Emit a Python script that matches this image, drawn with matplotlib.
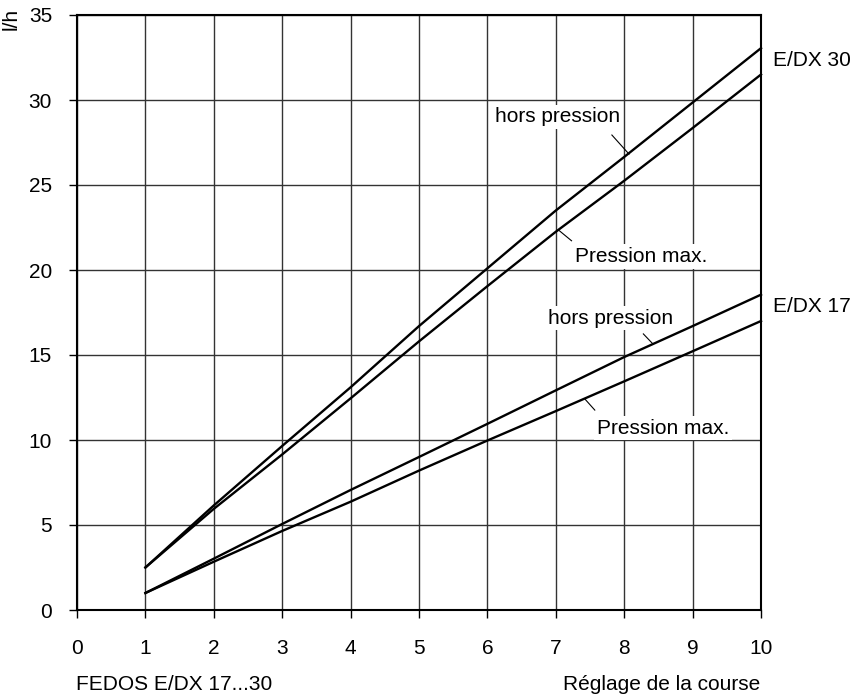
import matplotlib
matplotlib.use("Agg")
import matplotlib.pyplot as plt

plt.rcParams['font.family'] = ['Liberation Sans', 'DejaVu Sans']

# course setting (x) and flow l/h
course = [1, 2, 3, 4, 5, 6, 7, 8, 9, 10]
dx30_hors = [2.5, 6.15, 9.65, 13.1, 16.7, 20.1, 23.5, 26.65, 29.85, 33.05]
dx30_pmax = [2.5, 5.95, 9.15, 12.45, 15.8, 19.05, 22.25, 25.25, 28.35, 31.5]
dx17_hors = [1.0, 3.02, 5.06, 7.06, 9.0, 10.95, 12.92, 14.88, 16.7, 18.55]
dx17_pmax = [1.0, 2.84, 4.65, 6.37, 8.2, 9.97, 11.7, 13.45, 15.22, 17.0]

x_ticks = list(range(0, 11))
y_ticks = list(range(0, 36, 5))

fs = 15

fig = plt.figure(figsize=(8.51, 6.99), dpi=100)
ax = fig.add_axes([77/851, 1-610/699, 684/851, 595/699])

ax.set_xlim(0, 10)
ax.set_ylim(0, 35)
ax.set_xticks(x_ticks)
ax.set_yticks(y_ticks)
ax.grid(True, color='#333333', lw=1.0)
ax.set_axisbelow(True)
for s in ax.spines.values():
    s.set_linewidth(1.5)
    s.set_color('black')
ax.tick_params(axis='x', length=6, width=1, pad=15, labelsize=fs)
ax.tick_params(axis='y', length=6, width=1, pad=12, labelsize=fs)

for ys in (dx30_hors, dx30_pmax, dx17_hors, dx17_pmax):
    ax.plot(course, ys, color='black', lw=1.7, clip_on=False, zorder=3)

box = dict(facecolor='white', edgecolor='none', pad=2)
# labels with leader lines
ax.text(7.02, 29.0, "hors pression", ha='center', va='center', fontsize=fs, bbox=box, zorder=2)
ax.plot([7.82, 8.07], [27.94, 26.82], color='black', lw=0.8, zorder=2)
ax.text(8.25, 20.8, "Pression max.", ha='center', va='center', fontsize=fs, bbox=box, zorder=2)
ax.plot([7.04, 7.23], [22.35, 21.72], color='black', lw=0.8, zorder=2)
ax.text(7.8, 17.16, "hors pression", ha='center', va='center', fontsize=fs, bbox=box, zorder=2)
ax.plot([8.28, 8.42], [16.24, 15.65], color='black', lw=0.8, zorder=2)
ax.text(8.57, 10.69, "Pression max.", ha='center', va='center', fontsize=fs, bbox=box, zorder=2)
ax.plot([7.43, 7.57], [12.39, 11.76], color='black', lw=0.8, zorder=2)

ax.text(10.17, 32.3, "E/DX 30", ha='left', va='center', fontsize=fs, clip_on=False)
ax.text(10.17, 17.86, "E/DX 17", ha='left', va='center', fontsize=fs, clip_on=False)

fig.text(11.5/851, 1-19/699, "l/h", rotation=90, ha='center', va='center', fontsize=fs)
fig.text(76/851, 1-685/699, "FEDOS E/DX 17...30", ha='left', va='center', fontsize=fs)
fig.text(760/851, 1-685/699, "Réglage de la course", ha='right', va='center', fontsize=fs)

fig.savefig("out.png", dpi=100)
